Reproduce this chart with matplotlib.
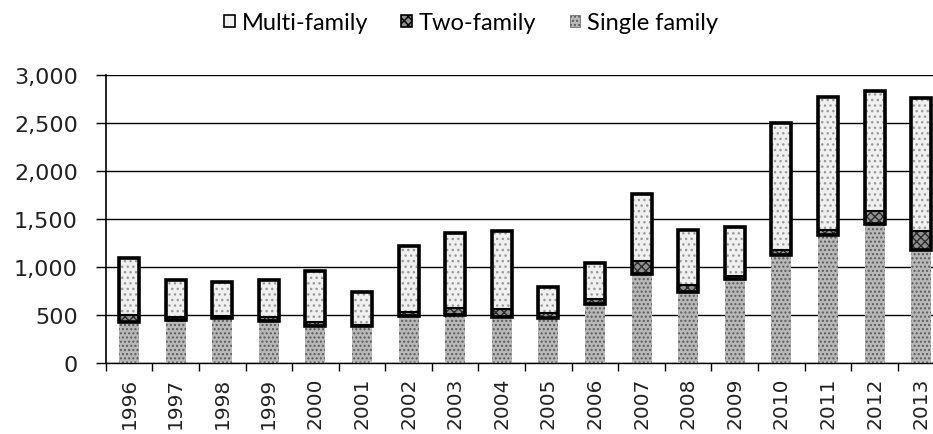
import matplotlib
matplotlib.use("Agg")
import matplotlib.pyplot as plt
import numpy as np
from matplotlib.patches import Patch

plt.rcParams["font.family"] = ["DejaVu Sans"]

years = ["1996", "1997", "1998", "1999", "2000", "2001", "2002", "2003", "2004",
         "2005", "2006", "2007", "2008", "2009", "2010", "2011", "2012", "2013"]
single_family = [430, 445, 465, 440, 390, 385, 495, 500, 475,
                 465, 620, 930, 740, 880, 1125, 1330, 1450, 1180]
two_family = [75, 40, 30, 45, 35, 10, 35, 70, 85,
              60, 50, 130, 75, 30, 55, 55, 135, 200]
multi_family = [595, 385, 345, 385, 530, 350, 690, 785, 815,
                270, 370, 700, 575, 510, 1320, 1390, 1245, 1380]
yticks = [0, 500, 1000, 1500, 2000, 2500, 3000]

fig = plt.figure(figsize=(9.33, 4.35), dpi=100)
ax = fig.add_axes([0.1133, 0.163, 0.899, 0.662])

x = np.arange(len(years))
s = np.array(single_family)
t = np.array(two_family)
m = np.array(multi_family)
w = 0.43

ax.bar(x, s, w, color="#b8b8b8", edgecolor="#5a5a5a", hatch="....", linewidth=0, zorder=3)
ax.bar(x, t, w, bottom=s, color="#909090", edgecolor="#2a2a2a", hatch="xxxx", linewidth=0, zorder=3)
ax.bar(x, m, w, bottom=s + t, color="#f0f0f0", edgecolor="#9a9a9a", hatch="...", linewidth=0, zorder=3)
ax.bar(x, t, w, bottom=s, fill=False, edgecolor="black", linewidth=1.5, zorder=4)
ax.bar(x, t + m, w, bottom=s, fill=False, edgecolor="black", linewidth=2.6, zorder=5)

ax.set_xlim(-0.5, len(years) - 0.5)
ax.set_ylim(0, 3000)
ax.set_yticks(yticks)
ax.set_yticklabels([f"{v:,}" for v in yticks], fontsize=16, color="#222222",
                   fontfamily="DejaVu Sans")
ax.yaxis.grid(True, color="black", linewidth=1.0, zorder=0)
ax.set_axisbelow(True)

ax.set_xticks(x)
ax.set_xticklabels(years, rotation=90, fontsize=14.5, color="#222222",
                   fontfamily="DejaVu Sans")
ax.set_xticks(np.arange(len(years) + 1) - 0.5, minor=True)
ax.tick_params(axis="x", which="major", length=0, pad=10)
ax.tick_params(axis="x", which="minor", length=6, width=1, direction="out")
ax.tick_params(axis="y", length=7, width=1, pad=13)

for side in ["top", "right"]:
    ax.spines[side].set_visible(False)
ax.spines["left"].set_linestyle((0, (1, 1)))
ax.spines["left"].set_linewidth(1.2)
ax.spines["bottom"].set_linestyle((0, (4, 1)))
ax.spines["bottom"].set_linewidth(1.0)

handles = [
    Patch(facecolor="#f0f0f0", edgecolor="black", linewidth=1.2, label="Multi-family"),
    Patch(facecolor="#909090", edgecolor="black", linewidth=1.2, hatch="xxxx", label="Two-family"),
    Patch(facecolor="#b8b8b8", edgecolor="#5a5a5a", linewidth=0.5, hatch="....", label="Single family"),
]
fig.legend(handles=handles, loc="center", bbox_to_anchor=(0.505, 0.945), ncol=3,
           frameon=False, prop={"family": "Lato", "size": 17},
           handlelength=0.45, handleheight=0.45,
           handletextpad=0.3, columnspacing=1.4)

fig.savefig("out.png", dpi=100)
